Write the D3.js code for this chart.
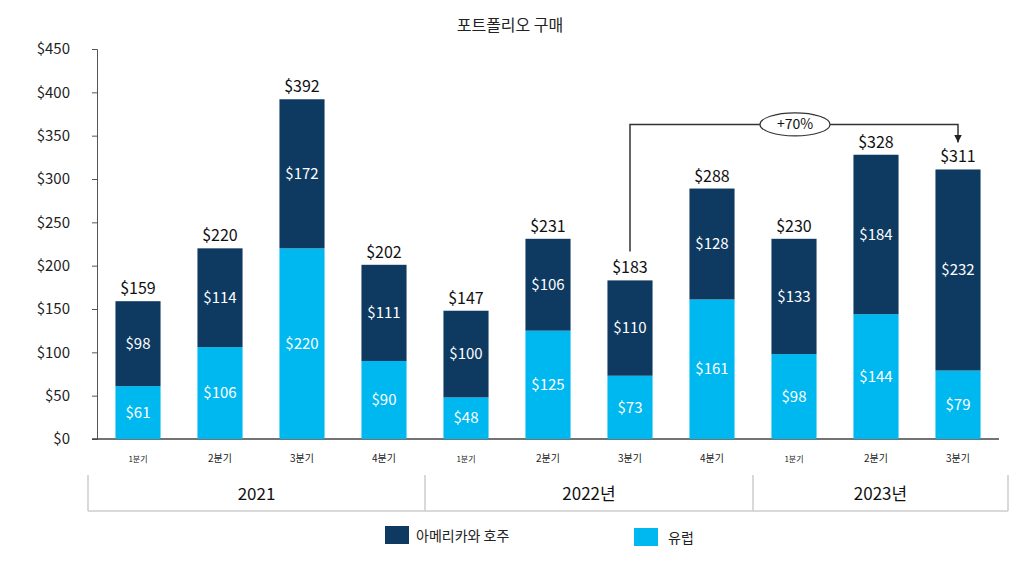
<!DOCTYPE html>
<html>
<head>
<meta charset="utf-8">
<script src="https://cdn.jsdelivr.net/npm/d3@7"></script>
<style>
  body { margin: 0; background: #fff; }
  text { font-family: "Noto Sans CJK KR", "Noto Sans", sans-serif; }
</style>
</head>
<body>
<div id="chart"></div>
<script>
// data
var quarters = ["1분기", "2분기", "3분기", "4분기", "1분기", "2분기", "3분기", "4분기", "1분기", "2분기", "3분기"];
var years = ["2021", "2021", "2021", "2021", "2022년", "2022년", "2022년", "2022년", "2023년", "2023년", "2023년"];
var europe = [61, 106, 220, 90, 48, 125, 73, 161, 98, 144, 79];
var americas = [98, 114, 172, 111, 100, 106, 110, 128, 133, 184, 232];
var totals = [159, 220, 392, 202, 147, 231, 183, 288, 230, 328, 311];
var yTicks = [0, 50, 100, 150, 200, 250, 300, 350, 400, 450];
var seriesNames = ["아메리카와 호주", "유럽"];

var width = 1024, height = 578;
var colors = {dark: "#0e3a62", light: "#00b8f0"};

var svg = d3.select("#chart")
  .append("svg")
    .attr("width", width)
    .attr("height", height);

var ids = quarters.map((q, i) => i);

var x = d3.scaleBand()
  .domain(ids)
  .range([97, 999])
  .paddingInner(0.45)
  .paddingOuter(0.225);

var y = d3.scaleLinear()
  .domain([0, 450])
  .range([439, 49]);

// title
svg.append("text")
  .attr("x", 510)
  .attr("y", 31)
  .attr("text-anchor", "middle")
  .attr("font-size", 16)
  .attr("fill", "#222")
  .text("포트폴리오 구매");

// y axis
var yAxis = svg.append("g")
  .attr("transform", "translate(97,0)")
  .call(d3.axisLeft(y).tickValues(yTicks).tickSize(5).tickPadding(22).tickFormat(d => "$" + d));
yAxis.select(".domain").attr("stroke", "#555");
yAxis.selectAll(".tick line").attr("stroke", "#555");
yAxis.selectAll("text").attr("font-size", 15).attr("fill", "#222")
  .attr("font-family", "'Noto Sans CJK KR', sans-serif");

// x axis line
svg.append("line")
  .attr("x1", 92).attr("x2", 999)
  .attr("y1", y(0)).attr("y2", y(0))
  .attr("stroke", "#444").attr("stroke-width", 1.5);

// bars
var rows = ids.map(i => ({i: i, eu: europe[i], am: americas[i], total: totals[i]}));

var g = svg.append("g")
  .selectAll("g")
  .data(rows)
  .enter()
  .append("g")
    .attr("transform", d => "translate(" + x(d.i) + ",0)");

g.append("rect")
  .attr("y", d => y(d.eu))
  .attr("width", x.bandwidth())
  .attr("height", d => y(0) - y(d.eu))
  .attr("fill", colors.light);

g.append("rect")
  .attr("y", d => y(d.eu + d.am))
  .attr("width", x.bandwidth())
  .attr("height", d => y(d.eu) - y(d.eu + d.am))
  .attr("fill", colors.dark);

g.append("text")
  .attr("x", x.bandwidth() / 2)
  .attr("y", d => (y(0) + y(d.eu)) / 2)
  .attr("dy", "0.35em")
  .attr("text-anchor", "middle")
  .attr("font-size", 15)
  .attr("fill", "#fff")
  .text(d => "$" + d.eu);

g.append("text")
  .attr("x", x.bandwidth() / 2)
  .attr("y", d => (y(d.eu) + y(d.eu + d.am)) / 2)
  .attr("dy", "0.35em")
  .attr("text-anchor", "middle")
  .attr("font-size", 15)
  .attr("fill", "#fff")
  .text(d => "$" + d.am);

g.append("text")
  .attr("x", x.bandwidth() / 2)
  .attr("y", d => y(d.eu + d.am) - 7)
  .attr("text-anchor", "middle")
  .attr("font-size", 16)
  .attr("fill", "#111")
  .text(d => "$" + d.total);

// quarter labels
svg.append("g")
  .selectAll("text")
  .data(rows)
  .enter()
  .append("text")
    .attr("x", d => x(d.i) + x.bandwidth() / 2)
    .attr("y", 462)
    .attr("text-anchor", "middle")
    .attr("font-size", d => quarters[d.i] == "1분기" ? 8 : 10)
    .attr("fill", "#222")
    .text(d => quarters[d.i]);

// year groups
var yearGroups = Array.from(d3.group(ids, i => years[i]), ([k, v]) => ({year: k, first: v[0], last: v[v.length - 1]}));
var step = x.step();
var boxTop = 475, boxBottom = 511;
yearGroups.forEach((yg, n) => {
  var x0 = n == 0 ? 88 : x(yg.first) + x.bandwidth() / 2 - step / 2;
  var x1 = n == yearGroups.length - 1 ? 1008 : x(yg.last) + x.bandwidth() / 2 + step / 2;
  yg.x0 = x0; yg.x1 = x1;
});
var yg_g = svg.append("g");
yg_g.append("line")
  .attr("x1", 88).attr("x2", 1008)
  .attr("y1", boxBottom).attr("y2", boxBottom)
  .attr("stroke", "#ccc").attr("stroke-width", 1.5);
yearGroups.forEach((yg, n) => {
  yg_g.append("line")
    .attr("x1", yg.x0).attr("x2", yg.x0)
    .attr("y1", boxTop).attr("y2", boxBottom)
    .attr("stroke", "#ccc").attr("stroke-width", 1.5);
  if (n == yearGroups.length - 1) {
    yg_g.append("line")
      .attr("x1", yg.x1).attr("x2", yg.x1)
      .attr("y1", boxTop).attr("y2", boxBottom)
      .attr("stroke", "#ccc").attr("stroke-width", 1.5);
  }
  yg_g.append("text")
    .attr("x", (yg.x0 + yg.x1) / 2)
    .attr("y", 494)
    .attr("dy", "0.35em")
    .attr("text-anchor", "middle")
    .attr("font-size", 17)
    .attr("fill", "#111")
    .text(yg.year);
});

// annotation +70%
var from = 6, to = 10;
var ax0 = x(from) + x.bandwidth() / 2;
var ax1 = x(to) + x.bandwidth() / 2;
var ay0 = y(totals[from]) - 29;
var ayTop = y(363);
var ay1 = y(totals[to]) - 27;

svg.append("defs").append("marker")
  .attr("id", "arrow")
  .attr("viewBox", "0 0 10 10")
  .attr("refX", 10).attr("refY", 5)
  .attr("markerWidth", 5).attr("markerHeight", 5)
  .attr("orient", "auto")
  .append("path")
    .attr("d", "M0,0L10,5L0,10z")
    .attr("fill", "#222");

svg.append("path")
  .attr("d", "M" + ax0 + "," + ay0 + "V" + ayTop + "H" + ax1 + "V" + ay1)
  .attr("fill", "none")
  .attr("stroke", "#333")
  .attr("stroke-width", 1.5)
  .attr("marker-end", "url(#arrow)");

svg.append("ellipse")
  .attr("cx", 795).attr("cy", ayTop)
  .attr("rx", 35).attr("ry", 11.5)
  .attr("fill", "#fff")
  .attr("stroke", "#333")
  .attr("stroke-width", 1.2);

svg.append("text")
  .attr("x", 795).attr("y", ayTop)
  .attr("dy", "0.35em")
  .attr("text-anchor", "middle")
  .attr("font-size", 14)
  .attr("fill", "#111")
  .text("+70%");

// legend
var legend = svg.append("g");
var legendItems = [
  {name: seriesNames[0], color: colors.dark, x: 385, y: 526},
  {name: seriesNames[1], color: colors.light, x: 634, y: 528}
];
legendItems.forEach(li => {
  legend.append("rect")
    .attr("x", li.x).attr("y", li.y)
    .attr("width", 24).attr("height", 18)
    .attr("fill", li.color);
  legend.append("text")
    .attr("x", li.x + (li.color == colors.dark ? 31 : 34))
    .attr("y", li.y + 10)
    .attr("dy", "0.35em")
    .attr("font-size", 14)
    .attr("fill", "#222")
    .text(li.name);
});
</script>
</body>
</html>
